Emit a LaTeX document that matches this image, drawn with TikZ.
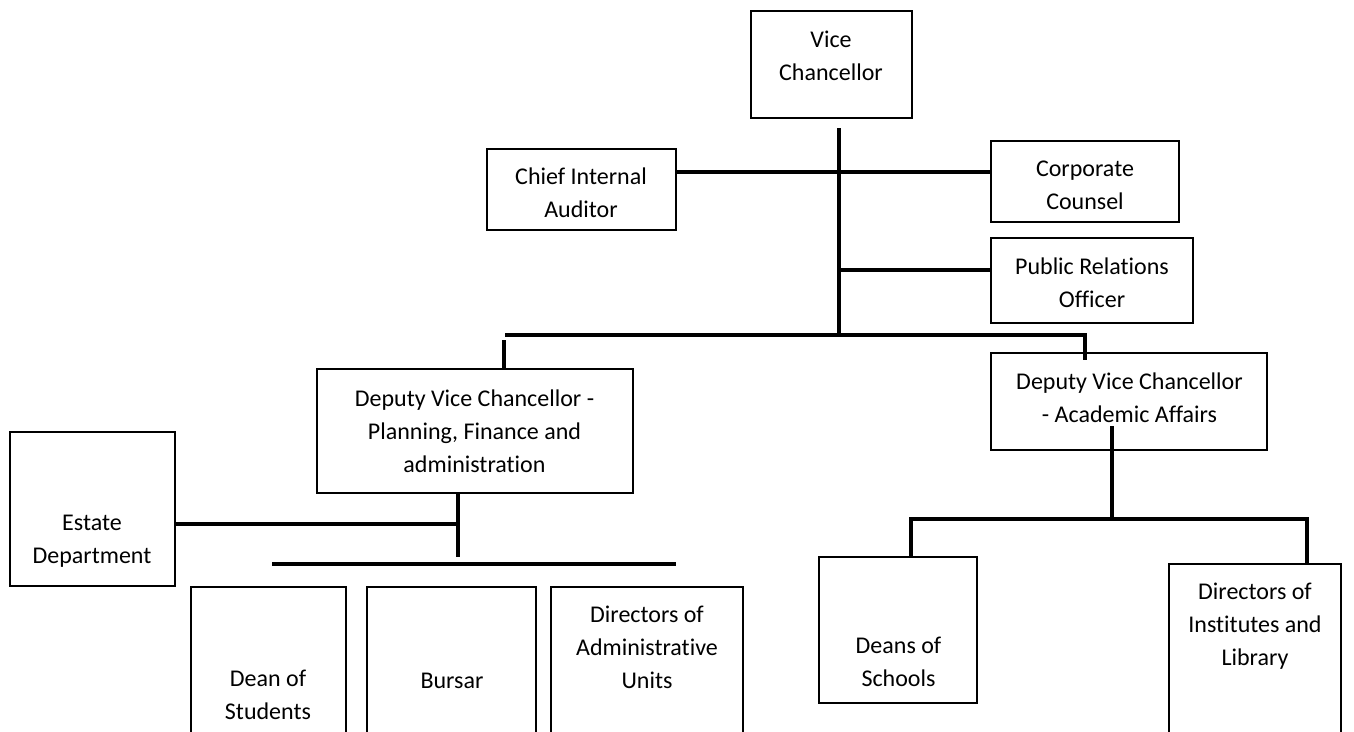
\documentclass[tikz,border=0pt]{standalone}
\usepackage{fontspec}
\setmainfont{Carlito}[Ligatures=NoCommon]
\begin{document}
\begin{tikzpicture}[x=1pt,y=-1pt,
  orgbox/.style={draw, line width=2pt, inner sep=0pt},
  txt/.style={inner sep=0pt, align=center, font=\fontsize{24}{33}\selectfont},
  link/.style={line width=4pt, line join=miter}]
\useasboundingbox (0,0) rectangle (1354,731);
\clip (0,0) rectangle (1354,731);
\fill[white] (0,0) rectangle (1354,731);

% boxes
\node[orgbox, minimum width=161pt, minimum height=107pt] (vc) at (831.5,64.5) {};
\node[txt] (vc-t) at (831,56) {Vice\\Chancellor};

\node[orgbox, minimum width=189pt, minimum height=81pt] (cia) at (581.5,189.5) {};
\node[txt] (cia-t) at (581,193) {Chief Internal\\Auditor};

\node[orgbox, minimum width=188pt, minimum height=81pt] (cc) at (1085,181.5) {};
\node[txt] (cc-t) at (1085,185) {Corporate\\Counsel};

\node[orgbox, minimum width=202pt, minimum height=85pt] (pr) at (1092,280.5) {};
\node[txt] (pr-t) at (1092,282.5) {Public Relations\\Officer};

\node[orgbox, minimum width=316pt, minimum height=124pt] (dvcpfa) at (475,431) {};
\node[txt] (dvcpfa-t) at (474.5,431) {Deputy Vice Chancellor -\\Planning, Finance and\\administration};

\node[orgbox, minimum width=276pt, minimum height=97pt] (dvcaa) at (1129,401.5) {};
\node[txt] (dvcaa-t) at (1129.5,397.5) {Deputy Vice Chancellor\\- Academic Affairs};

\node[orgbox, minimum width=165pt, minimum height=154pt] (estate) at (92.5,509) {};
\node[txt] (estate-t) at (92,541) {Estate\\Department};

\node[orgbox, minimum width=155pt, minimum height=173pt] (dos) at (268.5,673.5) {};
\node[txt] (dos-t) at (268,694.5) {Dean of\\Students};

\node[orgbox, minimum width=169pt, minimum height=173pt] (bursar) at (451.5,673.5) {};
\node[txt] (bursar-t) at (452,681) {Bursar};

\node[orgbox, minimum width=192pt, minimum height=173pt] (diradm) at (647,673.5) {};
\node[txt] (diradm-t) at (647,647.5) {Directors of\\Administrative\\Units};

\node[orgbox, minimum width=158pt, minimum height=146pt] (deans) at (898,630) {};
\node[txt] (deans-t) at (898.5,662) {Deans of\\Schools};

\node[orgbox, minimum width=172pt, minimum height=196pt] (dirinst) at (1255,662) {};
\node[txt] (dirinst-t) at (1255,626) {Directors of\\Institutes and\\Library};

% connectors
\coordinate (vcstem) at (839,128);
\coordinate (vcfoot) at (839,335);
\draw[link] (vcstem) -- (vcfoot);

\coordinate (jA) at (839,172);
\coordinate (jB) at (839,270);
\draw[link] (cia.east |- jA) -- (cc.west |- jA);
\draw[link] (jB) -- (pr.west |- jB);

\coordinate (hL) at (505,335);
\coordinate (hR) at (1085,335);
\draw[link] (hL) -- (hR) -- ([yshift=-8pt]dvcaa.north -| hR);
\coordinate (dL) at (504,340);
\draw[link] (dL) -- (dvcpfa.north -| dL);

\coordinate (pfaFoot) at (458,557);
\coordinate (jE) at (458,524);
\draw[link] (dvcpfa.south -| pfaFoot) -- (pfaFoot);
\draw[link] (estate.east |- jE) -- (jE);
\coordinate (bL) at (272,564);
\coordinate (bR) at (676,564);
\draw[link] (bL) -- (bR);

\coordinate (aaTop) at (1112,426);
\coordinate (aaJ) at (1112,519);
\draw[link] (aaTop) -- (aaJ);
\coordinate (aL) at (911,519);
\coordinate (aR) at (1307,519);
\draw[link] (deans.north -| aL) -- (aL) -- (aR) -- (dirinst.north -| aR);
\end{tikzpicture}
\end{document}
